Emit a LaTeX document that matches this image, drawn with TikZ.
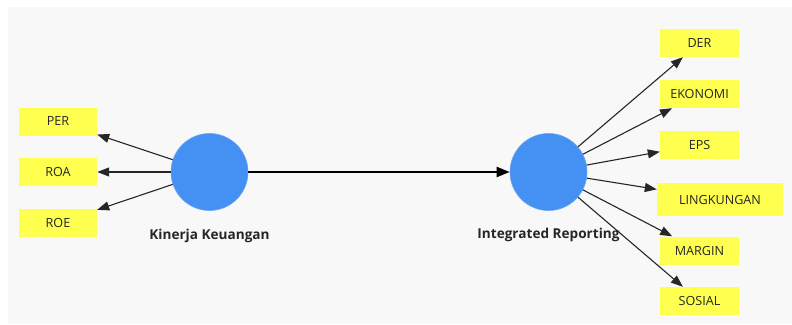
\documentclass[tikz,border=0pt]{standalone}
\usepackage{fontspec}
\setmainfont{Open Sans}
\usetikzlibrary{arrows.meta}
\definecolor{canvas}{HTML}{F8F8F8}
\definecolor{latent}{HTML}{4590F3}
\definecolor{indicator}{HTML}{FFFF4F}
\tikzset{
  construct/.style={circle, fill=latent, draw=latent!80!white, line width=0.6pt, minimum size=77pt, inner sep=0pt},
  constructlabel/.style={font=\fontsize{13.6}{15}\selectfont\bfseries, text=black!85},
  item/.style={rectangle, fill=indicator, minimum height=28pt, inner sep=0pt, font=\fontsize{12.6}{14}\selectfont, text=black!85},
  load/.style={-{Triangle[length=12pt,width=9pt]}, line width=1.1pt, draw=black!85},
  path/.style={-{Triangle[length=13pt,width=10pt]}, line width=2pt, draw=black}
}
\begin{document}
\begin{tikzpicture}[x=1pt,y=-1pt]
  \useasboundingbox (0,0) rectangle (792,324);
  \fill[white] (0,0) rectangle (792,324);
  \fill[canvas] (8,7) rectangle (792,324);

  % constructs
  \node[construct] (kk) at (209.5,172) {};
  \node[construct] (ir) at (548.5,172) {};
  \node[constructlabel] (kkl) at (209.5,236) {Kinerja Keuangan};
  \node[constructlabel] (irl) at (548.5,235) {Integrated Reporting};

  % indicators of Kinerja Keuangan
  \node[item, minimum width=78pt] (per) at (58,121.5) {PER};
  \node[item, minimum width=78pt] (roa) at (58,172) {ROA};
  \node[item, minimum width=78pt] (roe) at (58,223) {ROE};

  % indicators of Integrated Reporting
  \node[item, minimum width=79pt] (der) at (699.5,43) {DER};
  \node[item, minimum width=79pt] (eko) at (699.5,94) {EKONOMI};
  \node[item, minimum width=79pt] (eps) at (699.5,144.5) {EPS};
  \node[item, minimum width=126pt, minimum height=33pt] (lin) at (720,199.5) {LINGKUNGAN};
  \node[item, minimum width=79pt] (mar) at (699.5,250.5) {MARGIN};
  \node[item, minimum width=79pt] (sos) at (699.5,301) {SOSIAL};

  % structural path
  \draw[path] (kk) -- (ir);

  % outer loadings
  \foreach \t in {per,roa,roe} \draw[load] (kk) -- (\t);
  \foreach \t in {der,eko,eps,lin,mar,sos} \draw[load] (ir) -- (\t);
\end{tikzpicture}
\end{document}
